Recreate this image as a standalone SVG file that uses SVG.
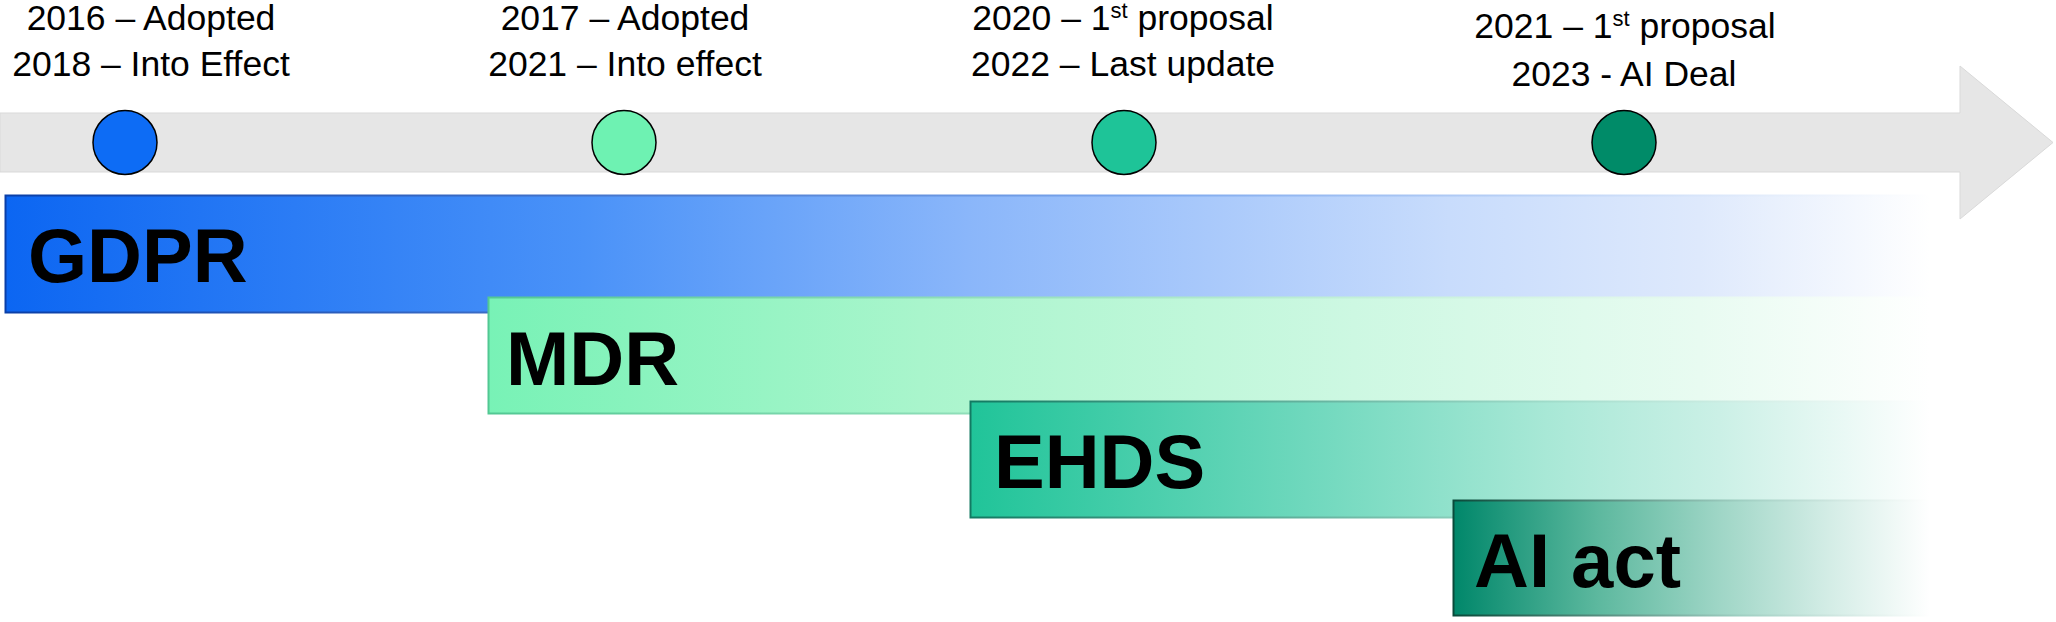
<svg xmlns="http://www.w3.org/2000/svg" width="2056" height="622" viewBox="0 0 2056 622">
<style>
.lbl{font-family:"Liberation Sans",Arial,sans-serif;font-size:35.5px;fill:#000;text-anchor:middle}
.sup{font-size:22px}
.big{font-family:"Liberation Sans",Arial,sans-serif;font-size:76px;font-weight:bold;fill:#000}
.dot{stroke:#000;stroke-width:1.5}
</style>
<defs>
<linearGradient id="gGdpr" x1="0" y1="0" x2="1" y2="0">
<stop offset="0" stop-color="#0c66f2"/>
<stop offset="0.3" stop-color="#4a92f8"/>
<stop offset="0.5" stop-color="#8ab6fa"/>
<stop offset="0.75" stop-color="#c8dcfc"/>
<stop offset="0.88" stop-color="#dee9fc"/>
<stop offset="1" stop-color="#ffffff"/>
</linearGradient>
<linearGradient id="gMdr" x1="0" y1="0" x2="1" y2="0">
<stop offset="0" stop-color="#78f2b6"/>
<stop offset="0.3" stop-color="#a9f5cc"/>
<stop offset="0.6" stop-color="#cdf8e2"/>
<stop offset="0.84" stop-color="#e8fbf1"/>
<stop offset="1" stop-color="#ffffff"/>
</linearGradient>
<linearGradient id="gEhds" x1="0" y1="0" x2="1" y2="0">
<stop offset="0" stop-color="#20c499"/>
<stop offset="0.35" stop-color="#6fd8bd"/>
<stop offset="0.6" stop-color="#a8e8d6"/>
<stop offset="0.78" stop-color="#cbf0e6"/>
<stop offset="1" stop-color="#ffffff"/>
</linearGradient>
<linearGradient id="gAi" x1="0" y1="0" x2="1" y2="0">
<stop offset="0" stop-color="#00876a"/>
<stop offset="0.3" stop-color="#5cb89e"/>
<stop offset="0.55" stop-color="#9dd5c5"/>
<stop offset="0.78" stop-color="#d2ece5"/>
<stop offset="1" stop-color="#ffffff"/>
</linearGradient>
<linearGradient id="sGdpr" x1="0" y1="0" x2="1" y2="0">
<stop offset="0" stop-color="#0a3fa8"/>
<stop offset="0.6" stop-color="#7ea9ee"/>
<stop offset="1" stop-color="#ffffff"/>
</linearGradient>
<linearGradient id="sMdr" x1="0" y1="0" x2="1" y2="0">
<stop offset="0" stop-color="#52c893"/>
<stop offset="0.6" stop-color="#c2f0d8"/>
<stop offset="1" stop-color="#ffffff"/>
</linearGradient>
<linearGradient id="sEhds" x1="0" y1="0" x2="1" y2="0">
<stop offset="0" stop-color="#127a62"/>
<stop offset="0.6" stop-color="#9fdcca"/>
<stop offset="1" stop-color="#ffffff"/>
</linearGradient>
<linearGradient id="sAi" x1="0" y1="0" x2="1" y2="0">
<stop offset="0" stop-color="#0a4a3a"/>
<stop offset="0.6" stop-color="#9fcfc2"/>
<stop offset="1" stop-color="#ffffff"/>
</linearGradient>
</defs>
<rect width="2056" height="622" fill="#ffffff"/>

<g id="connectors">
<g id="timeline">
<path d="M0,113 H1960 V66 L2053,142.5 L1960,219 V172 H0 Z" fill="#e6e6e6" stroke="#d9d9d9" stroke-width="1"/>
</g>
</g>

<g id="gdpr">
<rect x="5.5" y="195.5" width="1925" height="117" fill="url(#gGdpr)" stroke="url(#sGdpr)" stroke-width="2"/>
<text class="big" x="28" y="282">GDPR</text>
<circle class="dot" cx="125" cy="142.5" r="32" fill="#0d6cf5"/>
<text class="lbl" x="151" y="30">2016 – Adopted</text>
<text class="lbl" x="151" y="76">2018 – Into Effect</text>
</g>

<g id="mdr">
<rect x="488.5" y="297.5" width="1442" height="116" fill="url(#gMdr)" stroke="url(#sMdr)" stroke-width="2"/>
<text class="big" x="506" y="385">MDR</text>
<circle class="dot" cx="624" cy="142.5" r="32" fill="#6ef2b2"/>
<text class="lbl" x="625" y="30">2017 – Adopted</text>
<text class="lbl" x="625" y="76">2021 – Into effect</text>
</g>

<g id="ehds">
<rect x="970.5" y="401.5" width="960" height="116" fill="url(#gEhds)" stroke="url(#sEhds)" stroke-width="2"/>
<text class="big" x="994" y="488">EHDS</text>
<circle class="dot" cx="1124" cy="142.5" r="32" fill="#1ec498"/>
<text class="lbl" x="1123" y="30">2020 – 1<tspan class="sup" dy="-12">st</tspan><tspan dy="12"> proposal</tspan></text>
<text class="lbl" x="1123" y="76">2022 – Last update</text>
</g>

<g id="aiact">
<rect x="1453.5" y="500.5" width="477" height="115" fill="url(#gAi)" stroke="url(#sAi)" stroke-width="2"/>
<text class="big" x="1474" y="587">AI act</text>
<circle class="dot" cx="1624" cy="142.5" r="32" fill="#008b68"/>
<text class="lbl" x="1625" y="38">2021 – 1<tspan class="sup" dy="-12">st</tspan><tspan dy="12"> proposal</tspan></text>
<text class="lbl" x="1624" y="86">2023 - AI Deal</text>
</g>
</svg>
